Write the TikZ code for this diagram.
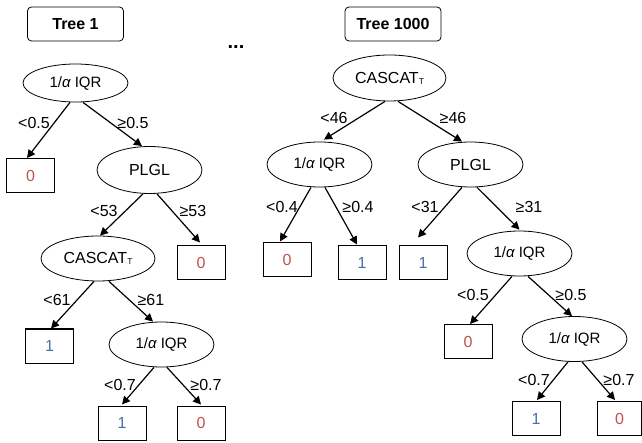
\documentclass[tikz,border=0pt]{standalone}
\usepackage{fontspec}
\setmainfont{Liberation Sans}
\usetikzlibrary{arrows.meta,positioning,shapes.geometric}
\definecolor{leafred}{HTML}{C0504D}
\definecolor{leafblue}{HTML}{4A6FA5}
\tikzset{split/.style={draw,ellipse,line width=0.8pt,inner sep=0pt,minimum width=105pt,minimum height=45pt,font=\fontsize{16}{18}\selectfont},
leaf/.style={draw,line width=1pt,minimum width=48pt,minimum height=34pt,inner sep=0pt,font=\fontsize{16}{18}\selectfont},
title/.style={draw,rounded corners=4pt,line width=0.8pt,minimum width=96pt,minimum height=34pt,font=\bfseries\fontsize{16}{18}\selectfont},
arr/.style={-{Triangle[length=8pt,width=8pt]},line width=1.2pt},
lab/.style={inner sep=1pt,font=\fontsize{16}{18}\selectfont}}
\newcommand{\iqr}{{\fontsize{15}{18}\selectfont 1/{\itshape α} IQR}}
\newcommand{\cascat}{CASCAT\raisebox{-1pt}{\fontsize{8.5}{9}\selectfont T}}
\newcommand{\zero}{\textcolor{leafred}{0}}
\newcommand{\one}{\textcolor{leafblue}{1}}

\begin{document}
\begin{tikzpicture}[x=1pt,y=1pt,on grid]
\useasboundingbox (0,0) rectangle (642,-443);
% titles
\node[title] (tree1) at (75.5,-24) {Tree 1};
\node[font=\bfseries\fontsize{20}{20}\selectfont] (dots) at (236,-47) {...};
\node[title] (tree1000) at (393,-24) {Tree 1000};
% tree 1
\node[split,minimum height=38pt] (a1) at (75.5,-83) {\iqr};
\node[leaf,below left=92.5pt and 45pt of a1] (a1l) {\zero};
\node[split,minimum height=47pt,below right=87pt and 74pt of a1] (a2) {PLGL};
\node[split,minimum width=114pt,below left=88.5pt and 51.5pt of a2] (a3) {\cascat};
\node[leaf,below right=93pt and 51.5pt of a2] (a2r) {\zero};
\node[leaf,below left=87.5pt and 48.5pt of a3] (a3l) {\one};
\node[split,below right=86pt and 63.5pt of a3] (a4) {\iqr};
\node[leaf,below left=78.5pt and 39.5pt of a4] (a4l) {\one};
\node[leaf,below right=78.5pt and 39.5pt of a4] (a4r) {\zero};
\draw[arr] ([xshift=-5.5pt]a1.south) -- ([xshift=-3.5pt]a1l.north);
\draw[arr] ([xshift=7.5pt]a1.south) -- ([xshift=-7.5pt]a2.north);
\draw[arr] ([xshift=-6.5pt]a2.south) -- ([xshift=2pt]a3.north);
\draw[arr] ([xshift=7.5pt]a2.south) -- ([xshift=-1pt,yshift=3pt]a2r.north);
\draw[arr] ([xshift=-4pt]a3.south) -- ([xshift=1.5pt]a3l.north);
\draw[arr] ([xshift=11pt]a3.south) -- ([xshift=-8.5pt]a4.north);
\draw[arr] ([xshift=-7.5pt]a4.south) -- ([yshift=1pt]a4l.north);
\draw[arr] ([xshift=5.5pt]a4.south) -- ([yshift=1pt]a4r.north);
\node[lab] (a1lt) at (34,-123) {<0.5};
\node[lab] (a1rt) at (133,-123) {≥0.5};
\node[lab] (a2lt) at (104,-211) {<53};
\node[lab] (a2rt) at (193,-211) {≥53};
\node[lab] (a3lt) at (57,-300) {<61};
\node[lab] (a3rt) at (151,-300) {≥61};
\node[lab] (a4lt) at (120,-385) {<0.7};
\node[lab] (a4rt) at (206,-385) {≥0.7};
% tree 1000
\node[split,minimum width=113pt,minimum height=46pt] (b1) at (389.5,-78) {\cascat};
\node[split,below left=86.5pt and 70pt of b1] (b2) {\iqr};
\node[split,below right=86.5pt and 81pt of b1] (b3) {PLGL};
\node[leaf,below left=95.5pt and 32.5pt of b2] (b2l) {\zero};
\node[leaf,below right=98.5pt and 42.5pt of b2] (b2r) {\one};
\node[leaf,below left=98.5pt and 47.5pt of b3] (b3l) {\one};
\node[split,below right=89pt and 49pt of b3] (b4) {\iqr};
\node[leaf,below left=88pt and 51.5pt of b4] (b4l) {\zero};
\node[split,below right=85.5pt and 55pt of b4] (b5) {\iqr};
\node[leaf,below left=79.5pt and 38.5pt of b5] (b5l) {\one};
\node[leaf,minimum width=44pt,below right=79.5pt and 45pt of b5] (b5r) {\zero};
\draw[arr] ([xshift=-4.5pt]b1.south) -- ([xshift=4.5pt,yshift=2pt]b2.north);
\draw[arr] ([xshift=8.5pt]b1.south) -- ([xshift=-8.5pt]b3.north);
\draw[arr] ([xshift=-8.5pt]b2.south) -- ([xshift=-7pt,yshift=1pt]b2l.north);
\draw[arr] ([xshift=5.5pt]b2.south) -- ([xshift=-5pt,yshift=1pt]b2r.north);
\draw[arr] ([xshift=-8.5pt]b3.south) -- ([xshift=-5pt,yshift=8pt]b3l.north);
\draw[arr] ([xshift=6.5pt]b3.south) -- ([yshift=1pt]b4.north);
\draw[arr] ([xshift=-7.5pt]b4.south) -- ([xshift=2pt]b4l.north);
\draw[arr] ([xshift=8.5pt]b4.south) -- ([xshift=-2.5pt]b5.north);
\draw[arr] ([xshift=-6.5pt]b5.south) -- ([xshift=1pt,yshift=1pt]b5l.north);
\draw[arr] ([xshift=7.5pt]b5.south) -- ([xshift=-4.5pt,yshift=1pt]b5r.north);
\node[lab] (b1lt) at (334,-118) {<46};
\node[lab] (b1rt) at (453,-118) {≥46};
\node[lab] (b2lt) at (282,-207) {<0.4};
\node[lab] (b2rt) at (358,-207) {≥0.4};
\node[lab] (b3lt) at (425,-207) {<31};
\node[lab] (b3rt) at (529,-207) {≥31};
\node[lab] (b4lt) at (473,-295) {<0.5};
\node[lab] (b4rt) at (571,-295) {≥0.5};
\node[lab] (b5lt) at (534,-380) {<0.7};
\node[lab] (b5rt) at (619,-380) {≥0.7};
\end{tikzpicture}
\end{document}
